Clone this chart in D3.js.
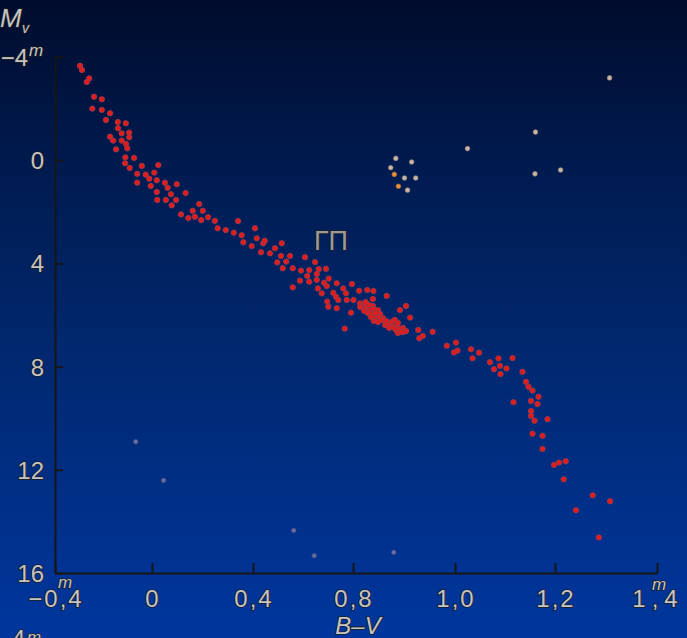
<!DOCTYPE html>
<html>
<head>
<meta charset="utf-8">
<script src="https://cdn.jsdelivr.net/npm/d3@7"></script>
<style>
  html, body { margin: 0; padding: 0; background: #001a55; }
  svg { display: block; }
  .lbl { font-family: "Liberation Sans", Arial, sans-serif; fill: #c4c4c4; stroke: #1e1e1e; stroke-width: 1.6px; paint-order: stroke; }
</style>
</head>
<body>
<div id="chart"></div>
<script>
// HR diagram: colour index B-V vs absolute magnitude Mv

// axis ticks
const xTicks = [-0.4, 0, 0.4, 0.8, 1.0, 1.2, 1.4];
const xTickLabels = ['\u22120,4', '0', '0,4', '0,8', '1,0', '1,2', '1,4'];
const yTicks = [-4, 0, 4, 8, 12, 16];
const yTickLabels = ['\u22124', '0', '4', '8', '12', '16'];

// main sequence (red)
const msBV = [
  -0.297, -0.289, -0.259, -0.269, -0.239, -0.207, -0.246, -0.207, -0.173, -0.190,
  -0.141, -0.108, -0.140, -0.094, -0.094, -0.125, -0.173, -0.160, -0.125, -0.107,
  -0.102, -0.148, -0.110, -0.074, -0.111, -0.092, -0.042, 0.025, -0.061, -0.026,
  0.009, -0.011, 0.019, -0.061, -0.005, 0.051, 0.062, 0.098, 0.019, 0.075,
  0.133, 0.021, 0.055, 0.095, 0.078, 0.187, 0.161, 0.201, 0.115, 0.144,
  0.170, 0.195, 0.222, 0.249, 0.341, 0.260, 0.292, 0.324, 0.355, 0.408,
  0.415, 0.362, 0.395, 0.441, 0.447, 0.432, 0.468, 0.488, 0.515, 0.548,
  0.608, 0.512, 0.497, 0.533, 0.648, 0.519, 0.559, 0.592, 0.625, 0.663,
  0.692, 0.617, 0.655, 0.588, 0.625, 0.655, 0.703, 0.559, 0.684, 0.695,
  0.735, 0.761, 0.796, 0.660, 0.675, 0.721, 0.772, 0.732, 0.812, 0.828,
  0.840, 0.866, 0.697, 0.741, 0.775, 0.801, 0.814, 0.839, 0.701, 0.735,
  0.792, 0.767, 0.892, 0.904, 0.912, 0.928, 0.956, 0.937, 0.930, 0.984,
  1.002, 1.005, 0.899, 0.998, 1.032, 1.048, 1.035, 1.070, 1.087, 1.115,
  1.090, 1.078, 1.103, 1.091, 1.135, 1.142, 1.147, 1.155, 1.167, 1.117,
  1.152, 1.165, 1.152, 1.152, 1.159, 1.185, 1.155, 1.175, 1.175, 1.198,
  1.208, 1.221, 1.217, 1.274, 1.308, 1.241, 1.286,
  // dense clump near B-V 0.85
  0.818, 0.824, 0.831, 0.839, 0.825, 0.833, 0.841, 0.849, 0.829, 0.837,
  0.845, 0.853, 0.835, 0.843, 0.851, 0.859, 0.841, 0.849, 0.857, 0.865,
  0.863, 0.871, 0.876, 0.871, 0.878, 0.886, 0.884, 0.892, 0.898, 0.888,
  0.896, 0.904, 0.882, 0.888, 0.825, 0.814, 0.822
];
const msMv = [
  -3.66, -3.50, -3.17, -3.03, -2.46, -2.36, -2.00, -1.95, -1.82, -1.56,
  -1.48, -1.43, -1.24, -1.07, -0.89, -1.04, -0.91, -0.76, -0.76, -0.63,
  -0.46, -0.42, -0.11, -0.09, 0.12, 0.30, 0.22, 0.19, 0.53, 0.56,
  0.48, 0.72, 0.78, 0.87, 1.00, 0.87, 1.07, 0.93, 1.23, 1.32,
  1.27, 1.54, 1.54, 1.54, 1.75, 1.70, 1.96, 1.96, 2.10, 2.24,
  2.19, 2.32, 2.21, 2.35, 2.36, 2.64, 2.71, 2.81, 2.91, 2.64,
  3.03, 3.18, 3.33, 3.22, 3.12, 3.57, 3.61, 3.41, 3.22, 3.71,
  3.76, 3.71, 3.96, 3.93, 3.95, 4.19, 4.19, 4.28, 4.26, 4.22,
  4.21, 4.49, 4.41, 4.67, 4.71, 4.64, 4.59, 4.93, 4.75, 4.88,
  4.77, 4.97, 4.80, 4.97, 5.16, 5.14, 5.16, 5.29, 5.06, 5.03,
  5.07, 5.26, 5.48, 5.42, 5.42, 5.42, 5.55, 5.38, 5.68, 5.74,
  5.91, 6.53, 5.81, 5.65, 6.10, 6.58, 6.65, 6.81, 6.90, 7.19,
  7.07, 7.38, 6.65, 7.45, 7.33, 7.46, 7.68, 7.83, 7.68, 7.67,
  7.97, 8.10, 8.07, 8.29, 8.20, 8.59, 8.78, 8.93, 9.17, 9.38,
  9.33, 9.45, 9.72, 9.91, 10.10, 10.04, 10.60, 10.68, 11.19, 11.81,
  11.72, 11.67, 12.37, 12.99, 13.22, 13.57, 14.62,
  5.65, 5.57, 5.61, 5.65, 5.77, 5.81, 5.77, 5.81, 5.92, 5.96,
  5.92, 5.96, 6.08, 6.12, 6.08, 6.12, 6.23, 6.27, 6.19, 6.23,
  6.39, 6.35, 6.27, 6.50, 6.47, 6.43, 6.58, 6.54, 6.50, 6.70,
  6.66, 6.62, 6.19, 6.31, 5.50, 5.69, 5.84
];

// giants (pale / orange)
const giantBV = [1.307, 1.161, 1.025, 0.884, 0.915, 0.874, 0.881, 0.901, 0.923, 0.889, 0.907, 1.160, 1.211];
const giantMv = [-3.19, -1.09, -0.45, -0.07, 0.07, 0.29, 0.55, 0.69, 0.69, 1.01, 1.16, 0.53, 0.38];
const giantKind = ['pale', 'pale', 'pale', 'pale', 'pale', 'pale', 'orange', 'pale', 'pale', 'orange', 'pale', 'pale', 'pale'];

// white dwarfs (dim)
const dwarfBV = [-0.067, 0.046, 0.563, 0.645, 0.880];
const dwarfMv = [10.91, 12.41, 14.35, 15.33, 15.20];

const W = 687, H = 638;
const plot = { left: 55, right: 657, top: 57, bottom: 573 };

const svg = d3.select('#chart').append('svg')
  .attr('width', W)
  .attr('height', H);

// background gradient
const defs = svg.append('defs');
const grad = defs.append('linearGradient')
  .attr('id', 'bg')
  .attr('x1', 0).attr('y1', 0).attr('x2', 0).attr('y2', 1);
grad.append('stop').attr('offset', '0%').attr('stop-color', '#000c2c');
grad.append('stop').attr('offset', '25%').attr('stop-color', '#001a4e');
grad.append('stop').attr('offset', '55%').attr('stop-color', '#01286f');
grad.append('stop').attr('offset', '100%').attr('stop-color', '#00369e');

svg.append('rect')
  .attr('width', W).attr('height', H)
  .attr('fill', 'url(#bg)');

// x scale: equal spacing per tick, step changes from 0.4 to 0.2 after 0.8
const xRange = [55, 152, 253, 353, 455, 555, 657];
const x = d3.scaleLinear().domain(xTicks).range(xRange);
const y = d3.scaleLinear().domain([-4, 16]).range([plot.top, plot.bottom]);

// axes
const yAxis = svg.append('g')
  .attr('transform', `translate(${plot.left},0)`)
  .call(d3.axisLeft(y).tickValues(yTicks).tickSizeInner(-8).tickSizeOuter(0).tickFormat(''));

const xAxis = svg.append('g')
  .attr('transform', `translate(0,${plot.bottom})`)
  .call(d3.axisBottom(x).tickValues(xTicks).tickSizeInner(-10).tickSizeOuter(0).tickFormat(''));

[xAxis, yAxis].forEach(a => {
  a.selectAll('path, line').attr('stroke', '#161616').attr('stroke-width', 2);
});

// y tick labels
const yLab = svg.append('g').attr('class', 'lbl').attr('font-size', 24);
yTicks.forEach((t, i) => {
  const first = i === 0;
  yLab.append('text')
    .attr('x', first ? 28 : 44)
    .attr('y', y(t) + 9)
    .attr('text-anchor', 'end')
    .text(yTickLabels[i]);
});
yLab.append('text')
  .attr('x', 29).attr('y', y(-4) - 1)
  .attr('font-size', 17).attr('font-style', 'italic')
  .text('m');

// x tick labels
const xLab = svg.append('g').attr('class', 'lbl').attr('font-size', 24).attr('letter-spacing', 2);
xTicks.forEach((t, i) => {
  xLab.append('text')
    .attr('x', x(t) + 1)
    .attr('y', 607)
    .attr('text-anchor', 'middle')
    .attr('letter-spacing', i === xTicks.length - 1 ? 6 : 2)
    .text(xTickLabels[i]);
});
xLab.append('text')
  .attr('x', x(-0.4) + 3).attr('y', 588)
  .attr('font-size', 17).attr('font-style', 'italic').attr('letter-spacing', 0)
  .text('m');
xLab.append('text')
  .attr('x', x(1.4) - 5).attr('y', 590)
  .attr('font-size', 17).attr('font-style', 'italic').attr('letter-spacing', 0)
  .text('m');

// axis titles
const titles = svg.append('g').attr('class', 'lbl');
titles.append('text')
  .attr('x', 0).attr('y', 27)
  .attr('font-size', 26).attr('font-style', 'italic')
  .text('M');
titles.append('text')
  .attr('x', 22).attr('y', 33)
  .attr('font-size', 14).attr('font-style', 'italic')
  .text('v');
titles.append('text')
  .attr('x', 358).attr('y', 634)
  .attr('font-size', 24).attr('font-style', 'italic')
  .attr('text-anchor', 'middle')
  .text('B\u2013V');
// clipped label at the bottom edge
titles.append('text')
  .attr('x', 12).attr('y', 647)
  .attr('font-size', 24)
  .text('4');
titles.append('text')
  .attr('x', 27).attr('y', 643)
  .attr('font-size', 17).attr('font-style', 'italic')
  .text('m');

// main sequence label
svg.append('text')
  .attr('class', 'lbl')
  .attr('x', 331).attr('y', 250)
  .attr('text-anchor', 'middle')
  .attr('font-size', 27)
  .style('fill', '#9a9a9a')
  .text('ГП');

// stars
const ms = msBV.map((b, i) => ({ bv: b, mv: msMv[i] }));
const giants = giantBV.map((b, i) => ({ bv: b, mv: giantMv[i], kind: giantKind[i] }));
const dwarfs = dwarfBV.map((b, i) => ({ bv: b, mv: dwarfMv[i] }));

svg.append('g')
  .selectAll('circle')
  .data(dwarfs)
  .enter()
  .append('circle')
  .attr('cx', d => x(d.bv))
  .attr('cy', d => y(d.mv))
  .attr('r', 2.2)
  .attr('fill', '#6c70a0')
  .attr('stroke', '#4a5288')
  .attr('stroke-width', 0.8);

svg.append('g')
  .selectAll('circle')
  .data(giants)
  .enter()
  .append('circle')
  .attr('cx', d => x(d.bv))
  .attr('cy', d => y(d.mv))
  .attr('r', 2.3)
  .attr('fill', d => d.kind === 'orange' ? '#ec9232' : '#cdb6a0')
  .attr('stroke', d => d.kind === 'orange' ? '#b8763a' : '#9a8e8a')
  .attr('stroke-width', 0.7);

svg.append('g')
  .selectAll('circle')
  .data(ms)
  .enter()
  .append('circle')
  .attr('cx', d => x(d.bv))
  .attr('cy', d => y(d.mv))
  .attr('r', 2.7)
  .attr('fill', '#e41b1b')
  .attr('stroke', '#953a4c')
  .attr('stroke-width', 0.9);
</script>
</body>
</html>
